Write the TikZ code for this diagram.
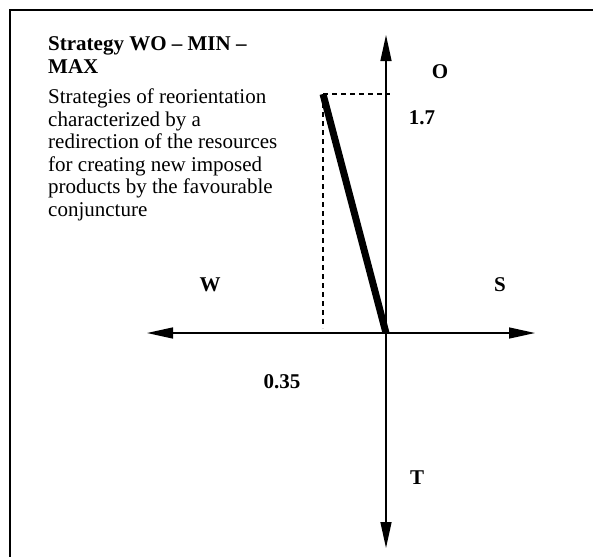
\documentclass[tikz,border=0pt]{standalone}
\usepackage{fontspec}
\setmainfont{Liberation Serif}
\usetikzlibrary{arrows.meta, calc, positioning}

\begin{document}
\begin{tikzpicture}[x=1pt, y=-1pt, >={Triangle[length=26pt, width=11pt]},
    axis/.style={<->, line width=1.4pt},
    lbl/.style={font=\fontsize{21}{22.5}\selectfont\bfseries, inner sep=0pt}]

    \useasboundingbox (0,0) rectangle (593,557);

    % =================================================================
    % 1. KHUNG VA DOAN MO TA CHIEN LUOC
    % =================================================================
    \draw[line width=2.5pt] (593,10) -- (10,10) -- (10,557);

    \node[anchor=north west, inner sep=0pt, align=left,
          font=\fontsize{21}{22.5}\selectfont] (desc) at (48,36.5)
        {\textbf{Strategy WO -- MIN --}\\\textbf{MAX}\\[8pt]
         Strategies of reorientation\\
         characterized by a\\
         redirection of the resources\\
         for creating new imposed\\
         products by the favourable\\
         conjuncture};

    % =================================================================
    % 2. HE TRUC W-S / O-T
    % =================================================================
    \coordinate (orig) at (386,333);
    \coordinate (up)   at (386,35);
    \coordinate (down) at (386,548);
    \coordinate (left) at (147,333);
    \coordinate (right) at (535,333);

    \draw[axis] (down) -- (up);
    \draw[axis] (left) -- (right);

    % Nhan cac truc
    \node[lbl] (lO) at (440,72)  {O};
    \node[lbl] (lT) at (417,478) {T};
    \node[lbl] (lW) at (210,285) {W};
    \node[lbl] (lS) at (500,285) {S};

    % =================================================================
    % 3. VECTO CHIEN LUOC (0.35 ; 1.7)
    % =================================================================
    \coordinate (tip) at (323,94);
    \draw[line width=1.2pt, dash pattern=on 5pt off 4pt]
        (tip) -- ($(tip -| orig)+(4,0)$);
    \draw[line width=1.2pt, dash pattern=on 5pt off 4pt]
        (tip) -- ($(tip |- orig)+(0,-5)$);
    \draw[line width=7pt] (tip) -- (orig);

    \node[lbl] (v17)  at (422,118) {1.7};
    \node[lbl] (v035) at (282,382) {0.35};

\end{tikzpicture}
\end{document}
